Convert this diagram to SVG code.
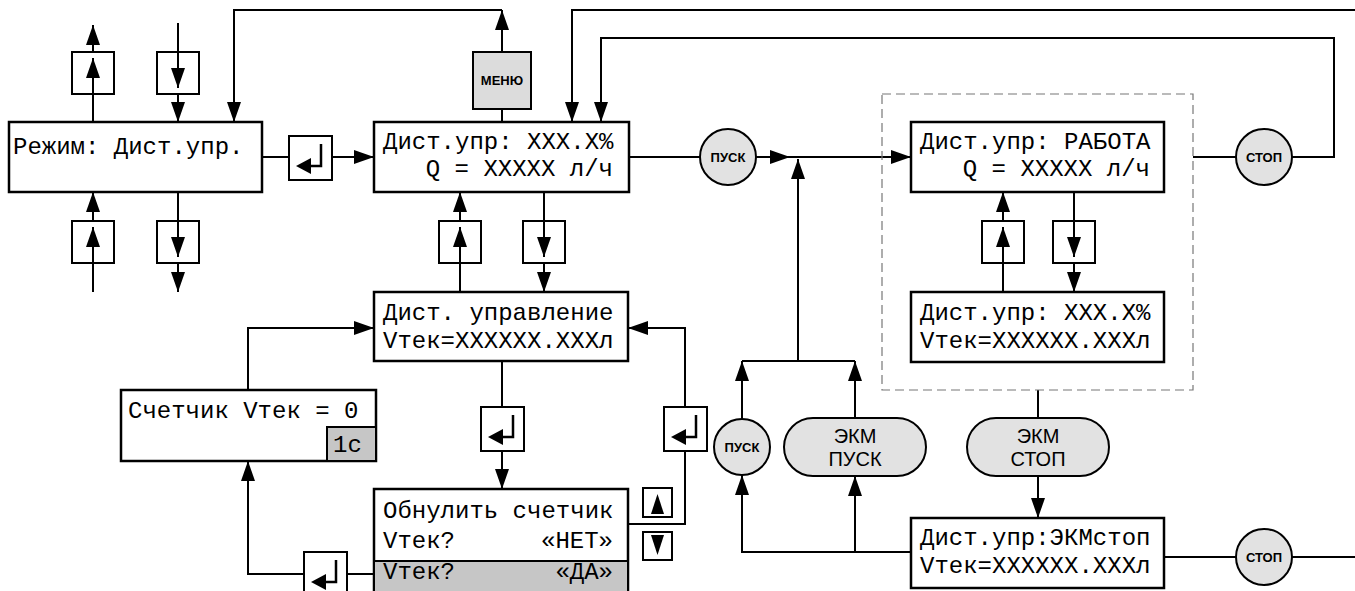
<svg xmlns="http://www.w3.org/2000/svg" width="1355" height="591" viewBox="0 0 1355 591">
<style>
.box{fill:#fff;stroke:#000;stroke-width:2.5}
.key{fill:#fff;stroke:#000;stroke-width:2}
.ln{fill:none;stroke:#000;stroke-width:2}
.arr{fill:none;stroke:#000;stroke-width:2;marker-end:url(#ah)}
.lcd{font-family:"Liberation Mono","Courier New",monospace;font-size:24px;fill:#000}
.btn{fill:#e2e2e2;stroke:#000;stroke-width:2}
.bt{font-family:"Liberation Sans",Arial,sans-serif;font-size:13px;font-weight:bold;fill:#000;text-anchor:middle}
.et{font-family:"Liberation Sans",Arial,sans-serif;font-size:20px;fill:#000;text-anchor:middle}
.gray{fill:#c6c6c6;stroke:#000;stroke-width:2}
.tri{fill:#000}
.ent{fill:none;stroke:#000;stroke-width:2.5}
</style>
<defs>
<marker id="ah" markerUnits="userSpaceOnUse" markerWidth="20" markerHeight="14" refX="20" refY="7" orient="auto">
<path d="M0,0 L20,7 L0,14 z" fill="#000"/>
</marker>
<g id="kup"><rect class="key" x="0" y="0" width="42" height="42"/><path class="arr" d="M21,42 V6"/></g>
<g id="kdn"><rect class="key" x="0" y="0" width="42" height="42"/><path class="arr" d="M21,0 V36"/></g>
<g id="kent"><rect class="key" x="0" y="0" width="43" height="44"/><path class="ent" d="M32,8 V30 H20"/><path class="tri" d="M7,30 L22,22 L22,38 z"/></g>
</defs>

<g id="connectors">
<path class="arr" d="M502,52 V10"/>
<path class="arr" d="M502,10 H234 V122"/>
<path class="arr" d="M1355,10 H572 V122"/>
<path class="arr" d="M1292,157 H1334 V38 H601 V122"/>
<path class="ln" d="M1193,157 H1236"/>
<path class="ln" d="M502,109 V122"/>
<path class="ln" d="M262,157 H289"/>
<path class="arr" d="M333,157 H374"/>
<path class="ln" d="M629,157 H700"/>
<path class="arr" d="M756,157 H790"/>
<path class="arr" d="M790,157 H911"/>
<path class="arr" d="M798,361 V159"/>
<path class="ln" d="M742,361 H855"/>
<path class="arr" d="M742,419 V361"/>
<path class="arr" d="M855,418 V361"/>
<path class="arr" d="M911,552 H742 V475"/>
<path class="arr" d="M855,552 V476"/>
<path class="ln" d="M1038,390 V418"/>
<path class="arr" d="M1038,476 V518"/>
<path class="ln" d="M1164,557 H1236"/>
<path class="ln" d="M1292,557 H1355"/>
<path class="ln" d="M1003,292 V263"/>
<path class="arr" d="M1003,221 V192"/>
<path class="ln" d="M1074,192 V221"/>
<path class="arr" d="M1074,263 V292"/>
<path class="ln" d="M460,292 V263"/>
<path class="arr" d="M460,221 V192"/>
<path class="ln" d="M544,192 V221"/>
<path class="arr" d="M544,263 V292"/>
<path class="ln" d="M93,122 V94"/>
<path class="arr" d="M93,52 V25"/>
<path class="ln" d="M178,23 V52"/>
<path class="arr" d="M178,94 V122"/>
<path class="ln" d="M93,292 V263"/>
<path class="arr" d="M93,221 V192"/>
<path class="ln" d="M178,192 V221"/>
<path class="arr" d="M178,263 V292"/>
<path class="ln" d="M502,361 V407"/>
<path class="arr" d="M502,451 V489"/>
<path class="ln" d="M628,524 H685 V451"/>
<path class="arr" d="M685,407 V328 H628"/>
<path class="arr" d="M248,390 V328 H374"/>
<path class="ln" d="M374,574 H347"/>
<path class="arr" d="M304,574 H248 V461"/>
</g>

<g id="group-run"><rect x="882" y="94" width="311" height="296" fill="none" stroke="#777" stroke-width="1.2" stroke-dasharray="9 5"/></g>

<g id="mode"><rect class="box" x="9" y="122" width="253" height="70"/><text class="lcd" x="13" y="154">Режим: Дист.упр.</text></g>
<g id="remote"><rect class="box" x="374" y="122" width="255" height="70"/><text class="lcd" x="383" y="149">Дист.упр: XXX.X%</text><text class="lcd" x="613" y="176" text-anchor="end">Q = XXXXX л/ч</text></g>
<g id="run"><rect class="box" x="911" y="122" width="253" height="70"/><text class="lcd" x="920" y="149">Дист.упр: РАБОТА</text><text class="lcd" x="1150" y="176" text-anchor="end">Q = XXXXX л/ч</text></g>
<g id="remote-ctl"><rect class="box" x="374" y="292" width="254" height="69"/><text class="lcd" x="383" y="320">Дист. управление</text><text class="lcd" x="383" y="348">Vтек=XXXXXX.XXXл</text></g>
<g id="run2"><rect class="box" x="911" y="292" width="253" height="70"/><text class="lcd" x="920" y="320">Дист.упр: XXX.X%</text><text class="lcd" x="920" y="348">Vтек=XXXXXX.XXXл</text></g>
<g id="counter"><rect class="box" x="121" y="390" width="255" height="71"/><rect class="gray" x="327" y="427" width="49" height="34"/><text class="lcd" x="128" y="418">Счетчик Vтек = 0</text><text class="lcd" x="333" y="452">1с</text></g>
<g id="reset"><rect class="box" x="374" y="489" width="254" height="120"/><rect class="gray" x="374" y="561" width="254" height="48"/><text class="lcd" x="383" y="518">Обнулить счетчик</text><text class="lcd" x="383" y="548">Vтек?</text><text class="lcd" x="613" y="548" text-anchor="end">«НЕТ»</text><text class="lcd" x="383" y="579">Vтек?</text><text class="lcd" x="613" y="579" text-anchor="end">«ДА»</text></g>
<g id="ekmstop-state"><rect class="box" x="911" y="518" width="253" height="70"/><text class="lcd" x="920" y="545">Дист.упр:ЭКМстоп</text><text class="lcd" x="920" y="573">Vтек=XXXXXX.XXXл</text></g>

<g id="menu"><rect x="473" y="52" width="58" height="57" fill="#dcdcdc" stroke="#000" stroke-width="2"/><text class="bt" x="502" y="85" font-size="12.5">МЕНЮ</text></g>
<g id="pusk1"><circle class="btn" cx="728" cy="157" r="28"/><text class="bt" x="728" y="162">ПУСК</text></g>
<g id="stop1"><circle class="btn" cx="1264" cy="157" r="28"/><text class="bt" x="1264" y="162">СТОП</text></g>
<g id="pusk2"><circle class="btn" cx="742" cy="447" r="28"/><text class="bt" x="742" y="452">ПУСК</text></g>
<g id="stop2"><circle class="btn" cx="1264" cy="557" r="28"/><text class="bt" x="1264" y="562">СТОП</text></g>
<g id="ekm-pusk"><rect class="btn" x="784" y="418" width="142" height="58" rx="29"/><text class="et" x="855" y="443">ЭКМ</text><text class="et" x="855" y="466">ПУСК</text></g>
<g id="ekm-stop"><rect class="btn" x="967" y="418" width="142" height="58" rx="29"/><text class="et" x="1038" y="443">ЭКМ</text><text class="et" x="1038" y="466">СТОП</text></g>

<g id="key-up-1"><use href="#kup" x="72" y="52"/></g>
<g id="key-dn-1"><use href="#kdn" x="157" y="52"/></g>
<g id="key-up-2"><use href="#kup" x="72" y="221"/></g>
<g id="key-dn-2"><use href="#kdn" x="157" y="221"/></g>
<g id="key-up-3"><use href="#kup" x="439" y="221"/></g>
<g id="key-dn-3"><use href="#kdn" x="523" y="221"/></g>
<g id="key-up-4"><use href="#kup" x="982" y="221"/></g>
<g id="key-dn-4"><use href="#kdn" x="1053" y="221"/></g>
<g id="key-ent-1"><use href="#kent" x="289" y="136"/></g>
<g id="key-ent-2"><use href="#kent" x="481" y="407"/></g>
<g id="key-ent-3"><use href="#kent" x="664" y="407"/></g>
<g id="key-ent-4"><use href="#kent" x="304" y="552"/></g>
<g id="key-up-s"><rect class="key" x="643" y="488" width="29" height="29"/><path class="tri" d="M657.5,494 L664,514 L651,514 z"/></g>
<g id="key-dn-s"><rect class="key" x="643" y="532" width="29" height="28"/><path class="tri" d="M657.5,555 L664,535 L651,535 z"/></g>
</svg>
